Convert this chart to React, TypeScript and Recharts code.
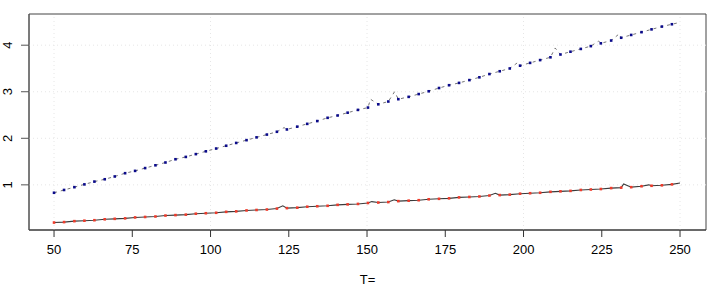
import React from "react"
import {
  ComposedChart,
  Line,
  Scatter,
  XAxis,
  YAxis,
  ReferenceLine,
  ReferenceArea,
  Label,
} from "recharts"

// sampled T values where points are drawn
const tPoints = [
  50.0, 53.2, 56.5, 59.7, 62.9, 66.2, 69.4, 72.7, 75.9, 79.1,
  82.4, 85.6, 88.8, 92.1, 95.3, 98.5, 101.8, 105.0, 108.2, 111.5,
  114.7, 118.0, 121.2, 124.4, 127.7, 130.9, 134.1, 137.4, 140.6, 143.8,
  147.1, 150.3, 153.6, 156.8, 160.0, 163.3, 166.5, 169.7, 173.0, 176.2,
  179.4, 182.7, 185.9, 189.1, 192.4, 195.6, 198.9, 202.1, 205.3, 208.6,
  211.8, 215.0, 218.3, 221.5, 224.7, 228.0, 231.2, 234.4, 237.7, 240.9,
  244.2, 247.4,
]

const bluePoints = [
  0.83, 0.89, 0.95, 1.01, 1.07, 1.12, 1.18, 1.25, 1.30, 1.36,
  1.42, 1.48, 1.55, 1.60, 1.66, 1.72, 1.78, 1.84, 1.90, 1.96,
  2.02, 2.08, 2.14, 2.19, 2.25, 2.31, 2.37, 2.44, 2.49, 2.55,
  2.61, 2.66, 2.73, 2.79, 2.84, 2.89, 2.95, 3.01, 3.08, 3.14,
  3.19, 3.25, 3.31, 3.38, 3.44, 3.50, 3.56, 3.62, 3.68, 3.74,
  3.80, 3.86, 3.92, 3.98, 4.04, 4.10, 4.16, 4.22, 4.28, 4.34,
  4.40, 4.45,
]

const redPoints = [
  0.19, 0.20, 0.22, 0.23, 0.24, 0.26, 0.27, 0.28, 0.30, 0.31,
  0.32, 0.34, 0.35, 0.36, 0.38, 0.39, 0.40, 0.42, 0.43, 0.45,
  0.46, 0.47, 0.49, 0.50, 0.51, 0.53, 0.54, 0.55, 0.57, 0.58,
  0.59, 0.61, 0.62, 0.63, 0.65, 0.66, 0.67, 0.69, 0.70, 0.71,
  0.73, 0.74, 0.75, 0.77, 0.78, 0.79, 0.81, 0.82, 0.83, 0.85,
  0.86, 0.87, 0.89, 0.90, 0.91, 0.93, 0.94, 0.95, 0.97, 0.98,
  0.99, 1.01,
]

// extra vertices of the black lines (bumps between points, end at T=250)
const blueLineExtra: [number, number][] = [
  [123.5, 2.23], [151.1, 2.84], [158.8, 3.0], [198.2, 3.63],
  [210.1, 3.94], [224.0, 4.09], [230.5, 4.24], [250, 4.49],
]
const redLineExtra: [number, number][] = [
  [123.1, 0.55], [151.5, 0.64], [158.7, 0.68], [191.0, 0.82],
  [232.0, 1.02], [240.0, 1.0], [250, 1.04],
]

const xTicks = [50, 75, 100, 125, 150, 175, 200, 225, 250]
const yTicks = [1, 2, 3, 4]
const gridX = [50, 100, 150, 200, 250]
const gridY = [1, 2, 3, 4]

const xDomain: [number, number] = [42, 258.3]
const yDomain: [number, number] = [0.03, 4.67]

const toPoints = (ys: number[]) => tPoints.map((t, i) => ({ t, v: ys[i] }))
const toLine = (ys: number[], extra: [number, number][]) =>
  [...toPoints(ys), ...extra.map(([t, v]) => ({ t, v }))].sort((a, b) => a.t - b.t)

const font = "'Liberation Sans', Arial, Helvetica, sans-serif"

const square = (color: string) => (props: any) => (
  <rect x={props.cx - 1.3} y={props.cy - 1.3} width={2.6} height={2.6} fill={color} />
)

const YTick = (props: any) => (
  <text
    transform={`translate(${props.x - 7}, ${props.y}) rotate(-90)`}
    textAnchor="middle"
    fontSize={13}
    fontFamily={font}
    fill="#000"
  >
    {props.payload.value}
  </text>
)

export default function App() {
  return (
    <div style={{ position: "absolute", left: 0, top: 0, background: "#fff" }}>
      <ComposedChart width={720} height={288} margin={{ top: 14, right: 14, left: 0, bottom: 0 }}>
        <XAxis
          type="number"
          dataKey="t"
          domain={xDomain}
          ticks={xTicks}
          allowDataOverflow
          height={58}
          tickSize={7}
          tickMargin={8}
          stroke="#333"
          tick={{ fill: "#000", fontSize: 13, fontFamily: font }}
        >
          <Label value="T=" position="insideBottom" offset={4} fill="#000" fontSize={13} fontFamily={font} />
        </XAxis>
        <YAxis
          type="number"
          dataKey="v"
          domain={yDomain}
          ticks={yTicks}
          allowDataOverflow
          width={29}
          tickSize={8}
          stroke="#555"
          tick={<YTick />}
        />
        {gridX.map((g) => (
          <ReferenceLine key={"gx" + g} x={g} stroke="#e6e6e6" strokeDasharray="1 3" />
        ))}
        {gridY.map((g) => (
          <ReferenceLine key={"gy" + g} y={g} stroke="#e6e6e6" strokeDasharray="1 3" />
        ))}
        <ReferenceArea x1={xDomain[0]} x2={xDomain[1]} y1={yDomain[0]} y2={yDomain[1]} fill="none" stroke="#444" />
        <Line
          data={toLine(bluePoints, blueLineExtra)}
          dataKey="v"
          type="linear"
          stroke="#777"
          strokeWidth={1}
          strokeDasharray="3 4"
          dot={false}
          isAnimationActive={false}
        />
        <Line
          data={toLine(redPoints, redLineExtra)}
          dataKey="v"
          type="linear"
          stroke="#3a3a3a"
          strokeWidth={1.1}
          dot={false}
          isAnimationActive={false}
        />
        <Scatter data={toPoints(bluePoints)} dataKey="v" shape={square("#0a0a8a")} isAnimationActive={false} />
        <Scatter data={toPoints(redPoints)} dataKey="v" shape={square("#ee3b2b")} isAnimationActive={false} />
      </ComposedChart>
    </div>
  )
}
